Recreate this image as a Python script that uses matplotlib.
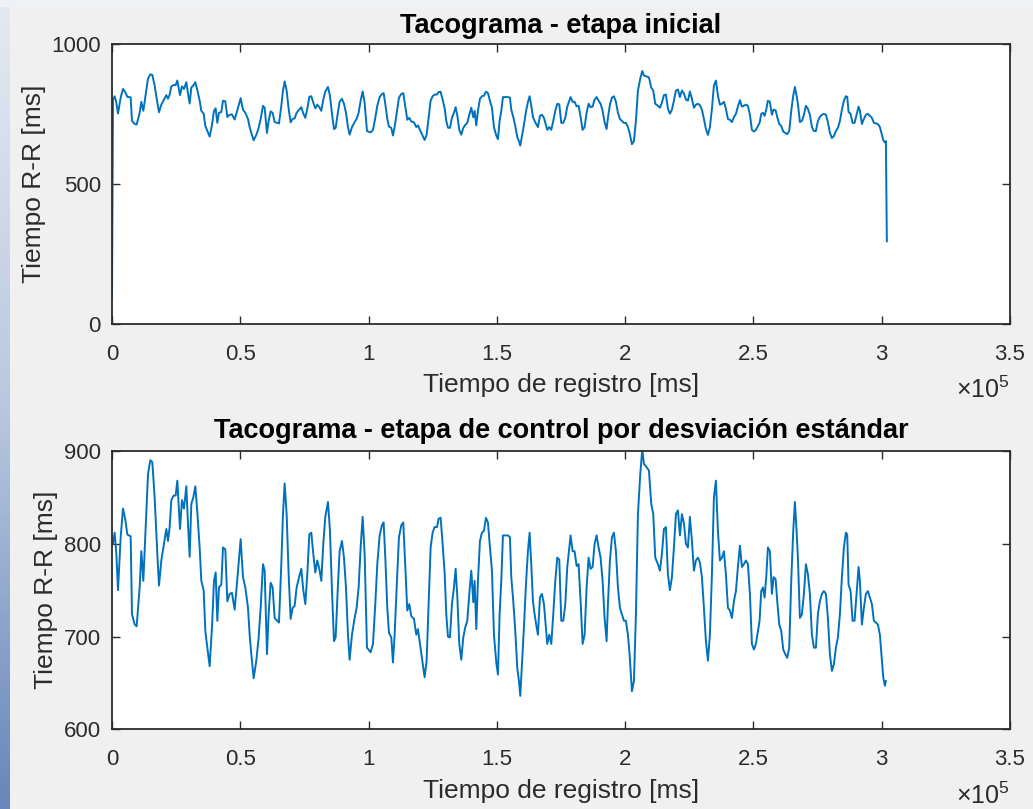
import numpy as np
import matplotlib
matplotlib.use('Agg')
import matplotlib.pyplot as plt
from matplotlib.ticker import FuncFormatter, FixedLocator
from matplotlib.colors import LinearSegmentedColormap

plt.rcParams['font.family'] = ['Liberation Sans', 'DejaVu Sans']
plt.rcParams['mathtext.fontset'] = 'custom'
plt.rcParams['mathtext.rm'] = 'Liberation Sans'
plt.rcParams['mathtext.it'] = 'Liberation Sans:italic'

# ---------------- data ----------------
t_ms = [
    390, 1039, 1689, 2338, 3377, 4287, 5196, 5975, 7274, 7794, 8833, 9612, 10782, 11431, 12210,
    12990, 14029, 14938, 15718, 16627, 17666, 18316, 19225, 20264, 21174, 21823, 22473, 23122, 24031, 24811,
    25460, 25980, 26499, 27279, 28058, 28968, 29617, 30267, 30916, 31695, 32475, 33254, 34164, 34813, 35722,
    36372, 37151, 38061, 38970, 39749, 40399, 41048, 41698, 42607, 43257, 44166, 44945, 45855, 46764, 47803,
    48842,
    50141, 51051, 51960, 52999, 53649, 54298, 55207, 56247, 57156, 57935, 58845, 59494, 60403, 61053, 61832,
    62612, 63391, 64430, 65080, 65989, 66639, 67288, 68067, 68847, 69626, 70406, 71185, 71964, 72744, 73783,
    74562, 75342, 76121, 76901, 77680, 78459, 79239, 80018, 80798, 81577, 82356, 83136, 84175, 84954, 85734,
    86513, 87163, 88072, 88722, 89631, 90410, 91190, 91969, 92619, 93528, 94567, 95346, 96126, 96905, 97685,
    98464, 99373,
    100802, 101712, 102621, 103400, 104310, 105219, 105868, 106518, 107297, 107947, 108856, 109506, 110155,
    111064, 111844, 112753, 113532, 114312, 115091, 115871, 116650, 117689, 118599, 119248, 120027, 120937,
    121846, 122625, 123405, 124184, 124964, 125743, 126652, 127302, 128081, 128861, 129640, 130290, 130939,
    131718, 132498, 133277, 133927, 134576, 135356, 136135, 136914, 137694, 138473, 139253, 140032, 140811,
    141331, 141981, 142630, 143409, 144189, 144968, 145748, 146527, 147306, 148086, 148865, 149775, 150424,
    151074, 151723, 152373, 153282, 154321, 155100, 155620, 156399, 157179, 157958, 158608, 159127, 159777,
    160556, 161336, 162115, 162765, 163414, 164064, 164713, 165492, 166012, 166791, 167571, 168350, 169000,
    169649, 170429, 171208, 171987, 172767, 173546, 174326, 175105, 175884, 176664, 177443, 178223, 178742,
    179522, 180301, 181080, 181860, 182639, 183419, 184198, 184977, 185757, 186536, 187316, 188095, 188874,
    189654, 190433, 191213, 191992, 192771, 193291, 194070, 194850, 195629, 196409, 197188, 197967, 198747,
    199526, 200306, 201085,
    201735, 202644, 203423, 204203, 204982, 205891, 206671, 207320, 208230, 209269, 210178, 210957, 211737,
    212776, 213555, 214335, 215114, 215894, 216673, 217452, 218232, 219011, 219791, 220570, 221349, 222129,
    222908, 223688, 224467, 225246, 226026, 226805, 227585, 228364, 229143, 229923, 230702, 231482, 232261,
    233040, 233820, 234599, 235379, 236158, 236937, 237717, 238496, 239276, 240055, 240834, 241614, 242393,
    243173, 243952, 244731, 245511, 246290, 247070, 247849, 248628, 249408, 250187, 250967,
    252396, 253045, 253695, 254344, 254994, 255643, 256422, 257202, 257851, 258631, 259280, 260060, 260839,
    261618, 262398, 263177, 263957, 264736, 265515, 266165, 266814, 267334, 268113, 268893, 269672, 270452,
    271231, 272010, 272790, 273569, 274349, 275128, 275907, 276687, 277466, 278246, 279025, 279804, 280584,
    281363, 282143, 282922, 283701, 284481, 285260, 286040, 286559, 287079, 287858, 288638, 289417, 290196,
    290976, 291495, 292275, 293054, 293834, 294613, 295392, 296172, 296951, 297731, 298510, 299289, 300069,
    300588, 301238, 301628,
]
rr_ms = [
    800, 812, 789, 750, 807, 838, 826, 810, 808, 724, 713, 711, 753, 792, 760,
    810, 875, 890, 888, 850, 789, 755, 782, 800, 816, 803, 818, 847, 852, 852,
    868, 843, 816, 847, 838, 862, 822, 786, 843, 850, 862, 834, 796, 760, 750,
    706, 688, 668, 710, 760, 769, 717, 753, 756, 796, 794, 738, 746, 747, 729,
    762,
    805, 764, 753, 731, 702, 681, 655, 674, 699, 731, 778, 771, 681, 724, 758,
    753, 720, 717, 715, 778, 832, 865, 832, 767, 719, 731, 733, 753, 762, 773,
    750, 735, 767, 810, 812, 789, 769, 782, 773, 760, 800, 829, 845, 814, 750,
    695, 699, 756, 792, 803, 785, 753, 702, 675, 702, 720, 731, 753, 796, 829,
    789, 688,
    683, 692, 735, 778, 809, 820, 823, 785, 731, 704, 699, 672, 702,
    760, 807, 820, 823, 775, 728, 735, 722, 719, 702, 708, 692, 674,
    656, 674, 735, 796, 812, 818, 818, 827, 828, 800, 769, 724, 700,
    699, 735, 753, 773, 744, 692, 675, 699, 710, 717, 746, 771, 737,
    760, 708, 760, 803, 812, 814, 828, 823, 796, 771, 702, 672, 659,
    724, 760, 809, 809, 809, 807, 764, 738, 706, 666, 652, 636, 670,
    710, 756, 792, 812, 778, 738, 724, 710, 702, 742, 746, 735, 713,
    692, 702, 692, 724, 760, 785, 783, 717, 717, 735, 775, 796, 809,
    792, 792, 776, 778, 738, 692, 702, 753, 785, 773, 775, 800, 809,
    796, 785, 760, 720, 695, 735, 782, 807, 812, 792, 753, 731, 724,
    717, 717, 702,
    681, 641, 652, 724, 832, 875, 902, 886, 883, 879, 843, 832, 785,
    778, 771, 789, 816, 818, 767, 750, 764, 796, 832, 836, 809, 832,
    822, 800, 796, 829, 803, 771, 782, 785, 780, 764, 731, 695, 674,
    702, 767, 850, 868, 814, 782, 785, 792, 767, 731, 728, 720, 738,
    749, 775, 798, 775, 778, 782, 778, 746, 692, 686, 692,
    717, 749, 753, 742, 764, 796, 792, 746, 764, 762, 738, 713, 706,
    686, 681, 677, 688, 760, 814, 845, 814, 785, 720, 724, 746, 778,
    767, 746, 702, 688, 688, 724, 738, 746, 749, 746, 720, 681, 663,
    670, 688, 699, 724, 764, 796, 812, 810, 756, 749, 717, 717, 746,
    775, 760, 713, 731, 746, 749, 742, 735, 717, 715, 713, 702, 674,
    656, 647, 652,
]
# artefacts present only in the initial stage (removed by the std-dev control)
t_first, rr_first = 0, 95
t_last, rr_last = 302000, 295

title_top = 'Tacograma - etapa inicial'
title_bot = 'Tacograma - etapa de control por desviación estándar'
xlabel = 'Tiempo de registro [ms]'
ylabel = 'Tiempo R-R [ms]'
x_ticks = [0, 50000, 100000, 150000, 200000, 250000, 300000, 350000]
y_ticks_top = [0, 500, 1000]
y_ticks_bot = [600, 700, 800, 900]

# ---------------- figure ----------------
W, H = 1033, 809
fig = plt.figure(figsize=(W / 100, H / 100), dpi=100, facecolor='#f0f0f0')

# screenshot frame: left gradient strip and top strip
strip = fig.add_axes([0, 0, 10 / W, 1])
cmap = LinearSegmentedColormap.from_list('frame', ['#e4eaf3', '#b9c8de', '#6886bb'])
strip.imshow(np.linspace(0, 1, 256).reshape(-1, 1), aspect='auto', cmap=cmap)
strip.axis('off')
top = fig.add_axes([0, 1 - 7 / H, 1, 7 / H])
top.set_facecolor('#eef2f7')
top.set_xticks([]); top.set_yticks([])
for s in top.spines.values():
    s.set_visible(False)

line_color = '#0072BD'
axis_color = '#2b2b2b'
tick_fs = 16
label_fs = 19
title_fs = 19.5

left = 112 / W
width = 898 / W
ax1 = fig.add_axes([left, (H - 324) / H, width, 280.5 / H])
ax2 = fig.add_axes([left, (H - 729.3) / H, width, 278.3 / H])

t_top = [t_first] + t_ms + [t_last]
rr_top = [rr_first] + rr_ms + [rr_last]
ax1.plot(t_top, rr_top, color=line_color, lw=1.4)
ax2.plot(t_ms, rr_ms, color=line_color, lw=1.4)

fmt = FuncFormatter(lambda v, p: f'{v / 1e5:g}')
for ax, yt, ylim in [(ax1, y_ticks_top, (0, 1000)), (ax2, y_ticks_bot, (600, 900))]:
    ax.set_facecolor('white')
    ax.set_xlim(0, 350000)
    ax.set_ylim(*ylim)
    ax.xaxis.set_major_locator(FixedLocator(x_ticks))
    ax.yaxis.set_major_locator(FixedLocator(yt))
    ax.xaxis.set_major_formatter(fmt)
    ax.tick_params(direction='in', length=6, width=1.0, colors=axis_color,
                   labelsize=tick_fs, top=True, right=True)
    ax.tick_params(axis='x', pad=14.5)
    ax.tick_params(axis='y', pad=8)
    for s in ax.spines.values():
        s.set_color(axis_color)
        s.set_linewidth(1.3)
    ax.set_xlabel(xlabel, fontsize=label_fs, color=axis_color, labelpad=6)
    ax.set_ylabel(ylabel, fontsize=label_fs, color=axis_color, labelpad=4)
    ax.annotate(r'$\times10^{5}$', xy=(1, 0), xycoords='axes fraction',
                xytext=(0, -53.5), textcoords='offset points',
                ha='right', va='baseline', fontsize=18, color=axis_color)

ax1.set_title(title_top, fontsize=title_fs, fontweight='bold', color='black', pad=7.3)
ax2.set_title(title_bot, fontsize=title_fs, fontweight='bold', color='black', pad=9.3)

fig.savefig('out.png', dpi=100, facecolor=fig.get_facecolor())
